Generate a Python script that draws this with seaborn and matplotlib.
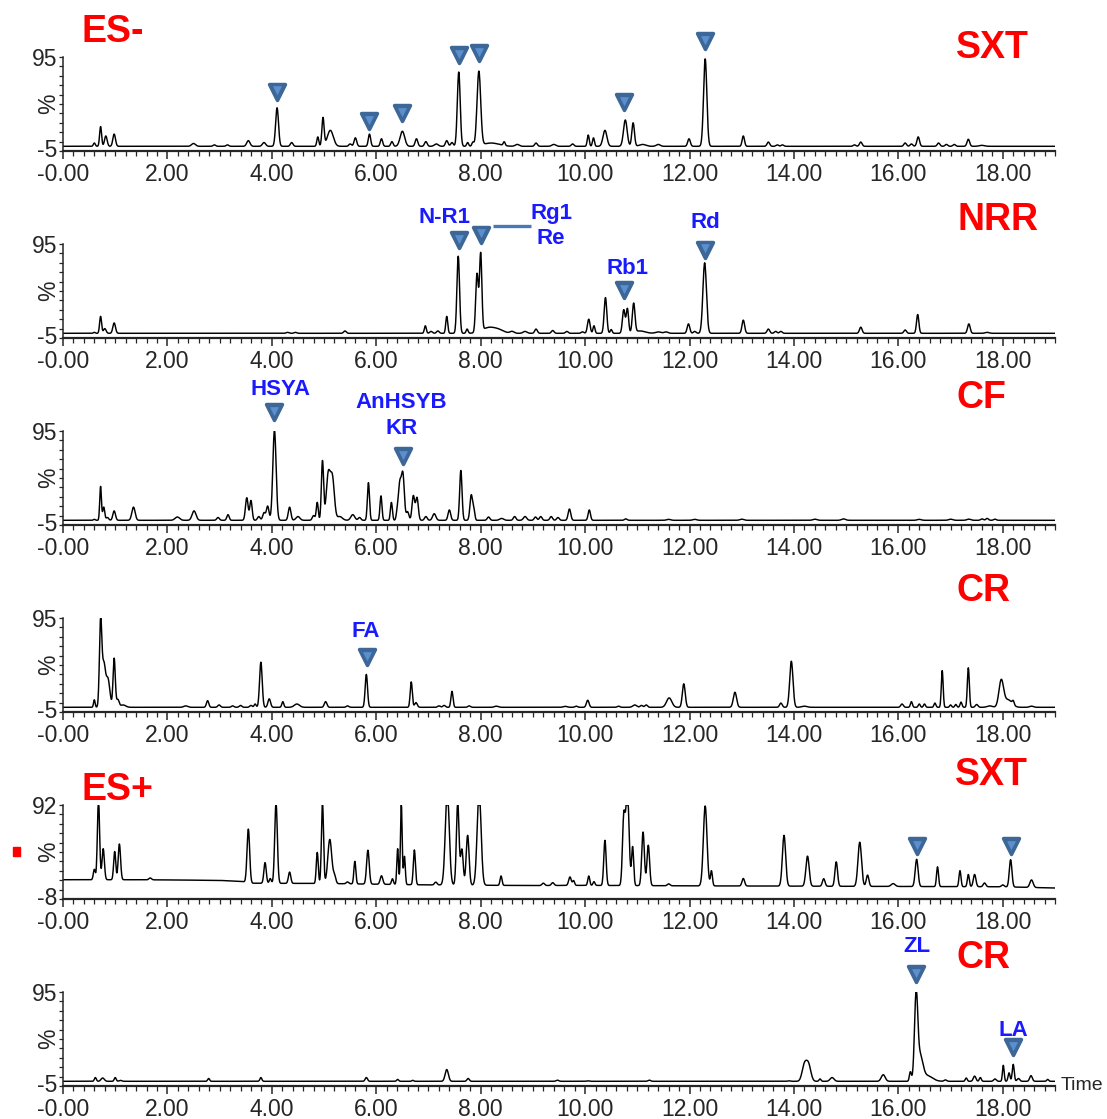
import numpy as np
import pandas as pd
import matplotlib
matplotlib.use("Agg")
import matplotlib.pyplot as plt
import matplotlib.transforms as mtransforms
import seaborn as sns
from matplotlib import font_manager
from matplotlib.patches import Rectangle

# ---------------- data ----------------
# Panel 1 : ES- SXT   (retention time, height %, peak width sigma)
P1_RT = [0.60, 0.72, 0.82, 0.98, 2.50, 2.90, 3.15, 3.55, 3.85, 4.10, 4.38, 4.88, 4.98, 5.12,
         5.50, 5.60, 5.87, 6.10, 6.30, 6.50, 6.77, 6.95, 7.15, 7.35, 7.45, 7.58, 7.75, 7.85,
         7.965, 8.20, 8.45, 8.70, 9.06, 9.40, 9.76, 10.06, 10.16, 10.38, 10.77, 10.92, 11.10,
         11.40, 11.99, 12.30, 13.03, 13.51, 13.68, 13.78, 15.16, 15.28, 16.13, 16.25, 16.38,
         16.77, 16.92, 17.07, 17.34, 17.60]
P1_H = [3.5, 21, 11, 13, 3, 1.5, 1.5, 6, 4, 41, 4, 10, 30, 17,
        2.5, 9, 13, 8, 5, 16, 8, 5, 2.5, 6, 4, 79, 4, 4,
        79, 3.5, 4, 2, 3.5, 2, 2.5, 12, 9, 17, 28, 25, 2,
        2, 8, 93, 11, 4.5, 1.5, 1.5, 1.5, 4.5, 3.5, 2.5, 10,
        3.5, 2, 2, 7.5, 1]
P1_W = [0.015, 0.015, 0.02, 0.02, 0.03, 0.02, 0.02, 0.025, 0.025, 0.022, 0.02, 0.015, 0.017, 0.045,
        0.02, 0.02, 0.018, 0.018, 0.018, 0.035, 0.02, 0.02, 0.03, 0.02, 0.02, 0.022, 0.015, 0.015,
        0.028, 0.12, 0.015, 0.03, 0.02, 0.03, 0.02, 0.015, 0.015, 0.03, 0.028, 0.02, 0.05,
        0.03, 0.02, 0.025, 0.018, 0.02, 0.02, 0.02, 0.02, 0.02, 0.02, 0.02, 0.02,
        0.02, 0.02, 0.02, 0.02, 0.04]

# Panel 2 : NRR
P2_RT = [0.60, 0.72, 0.80, 0.98, 4.30, 4.45, 5.40, 6.94, 7.05, 7.18, 7.35, 7.57, 7.74, 7.93,
         8.00, 8.15, 8.35, 8.60, 8.85, 9.06, 9.38, 9.65, 9.95, 10.07, 10.17, 10.39, 10.50,
         10.74, 10.81, 10.93, 11.05, 11.40, 11.55, 11.98, 12.10, 12.29, 13.03, 13.51, 13.65,
         13.75, 15.28, 16.13, 16.37, 17.35, 17.70]
P2_H = [1, 18, 5, 11, 1, 1, 2.5, 8, 2, 2.5, 18, 82, 4.5, 62,
        82, 6, 3, 2, 2, 4.5, 3, 2, 1.5, 15, 8, 38, 4,
        25, 26, 31, 2.5, 1.5, 1.5, 10, 2, 75, 14, 4.5, 2,
        2, 6.5, 3.5, 20, 10, 1]
P2_W = [0.015, 0.015, 0.02, 0.02, 0.02, 0.02, 0.02, 0.015, 0.02, 0.02, 0.015, 0.02, 0.015, 0.02,
        0.018, 0.1, 0.08, 0.03, 0.03, 0.02, 0.02, 0.02, 0.02, 0.02, 0.015, 0.02, 0.015,
        0.02, 0.018, 0.02, 0.08, 0.04, 0.03, 0.02, 0.02, 0.027, 0.02, 0.02, 0.02,
        0.02, 0.02, 0.02, 0.018, 0.02, 0.03]

# Panel 3 : CF
P3_RT = [0.60, 0.72, 0.78, 0.85, 0.98, 1.35, 2.19, 2.51, 2.97, 3.16, 3.52, 3.60, 3.75, 3.85,
         3.92, 4.05, 4.34, 4.50, 4.80, 4.87, 4.97, 5.08, 5.16, 5.30, 5.55, 5.68, 5.85, 6.09,
         6.29, 6.40, 6.45, 6.51, 6.60, 6.71, 6.78, 6.95, 7.11, 7.40, 7.62, 7.82, 7.87, 8.15,
         8.40, 8.65, 8.85, 9.05, 9.15, 9.35, 9.48, 9.70, 10.08, 10.78, 11.60, 12.10, 13.00,
         14.40, 14.95, 16.40, 17.00, 17.35, 17.60, 17.70, 17.85]
P3_H = [1, 36, 14, 3, 10, 14, 3.5, 10, 3, 6, 24, 21, 4, 8,
        15, 96, 14, 4, 5, 19, 63, 48, 44, 4, 6, 3, 40, 26,
        19, 7, 38, 48, 9, 26, 24, 4, 7, 11, 53, 27, 10, 3.5,
        2, 4, 4, 3.5, 4, 4, 3, 12, 11, 1.5, 1, 1, 1.2,
        1.2, 1.5, 1, 1.2, 1.2, 1.5, 2, 1.2]
P3_W = [0.015, 0.013, 0.015, 0.02, 0.02, 0.025, 0.035, 0.03, 0.02, 0.018, 0.02, 0.018, 0.02, 0.02,
        0.02, 0.025, 0.02, 0.03, 0.02, 0.015, 0.017, 0.03, 0.03, 0.04, 0.03, 0.02, 0.016, 0.015,
        0.015, 0.015, 0.022, 0.022, 0.02, 0.02, 0.02, 0.02, 0.025, 0.02, 0.018, 0.02, 0.015, 0.02,
        0.03, 0.02, 0.025, 0.02, 0.02, 0.02, 0.02, 0.02, 0.018, 0.02, 0.03, 0.03, 0.03,
        0.03, 0.03, 0.03, 0.03, 0.03, 0.02, 0.02, 0.02]

# Panel 4 : CR (ES-)
P4_RT = [0.60, 0.72, 0.78, 0.86, 0.98, 1.05, 1.15, 2.35, 2.77, 2.99, 3.25, 3.40, 3.60, 3.68,
         3.79, 3.95, 4.21, 4.48, 5.03, 5.45, 5.81, 6.67, 6.76, 7.20, 7.30, 7.45, 7.78, 8.30,
         9.62, 9.83, 10.05, 10.64, 10.95, 11.08, 11.17, 11.61, 11.89, 12.87, 13.75, 13.95,
         14.20, 16.07, 16.25, 16.40, 16.50, 16.70, 16.84, 17.00, 17.10, 17.20, 17.34, 17.50,
         17.75, 17.97, 18.10, 18.20, 18.55]
P4_H = [8, 90, 44, 30, 52, 8, 2.5, 1.5, 7, 2.5, 1.5, 2, 2, 3.5,
        48, 9, 6, 3.5, 6, 1.5, 35, 27, 5, 1.5, 2, 17, 1.5, 1.2,
        1, 1.2, 7.5, 1.2, 2.5, 2, 2.5, 10, 25, 16, 4.5, 49,
        1.2, 3.5, 6, 3.5, 3.5, 4.5, 39, 2.5, 3, 5.5, 42, 3,
        1.5, 28, 8, 4, 1.2]
P4_W = [0.012, 0.018, 0.025, 0.03, 0.017, 0.02, 0.04, 0.03, 0.018, 0.02, 0.02, 0.02, 0.02, 0.015,
        0.02, 0.02, 0.015, 0.04, 0.02, 0.02, 0.018, 0.016, 0.02, 0.02, 0.02, 0.016, 0.02, 0.03,
        0.03, 0.02, 0.02, 0.02, 0.03, 0.02, 0.02, 0.04, 0.022, 0.025, 0.02, 0.025,
        0.04, 0.02, 0.015, 0.015, 0.015, 0.015, 0.014, 0.015, 0.015, 0.015, 0.015, 0.02,
        0.04, 0.035, 0.06, 0.015, 0.03]

# Panel 5 : ES+ SXT (drifting baseline)
P5_BASE_T = [0.0, 0.55, 1.2, 2.0, 3.0, 3.45, 3.6, 5.0, 7.0, 9.0, 10.0, 12.0, 15.0, 18.0, 19.0]
P5_BASE_V = [12.5, 12.5, 12.5, 12.3, 11.8, 10.5, 8.8, 8.5, 7.0, 6.3, 6.5, 6.0, 5.5, 5.0, 3.7]
P5_RT = [0.60, 0.68, 0.77, 0.99, 1.08, 1.67, 3.55, 3.87, 3.97, 4.08, 4.34, 4.87, 4.97, 5.11,
         5.20, 5.45, 5.59, 5.84, 6.10, 6.31, 6.41, 6.48, 6.54, 6.73, 7.14, 7.36, 7.56, 7.64,
         7.75, 7.97, 8.39, 9.20, 9.38, 9.71, 9.78, 10.07, 10.17, 10.38, 10.74, 10.81, 10.91,
         11.11, 11.21, 11.60, 12.30, 12.42, 13.03, 13.81, 14.26, 14.57, 14.81, 15.26, 15.41,
         15.90, 16.35, 16.75, 17.18, 17.34, 17.46, 17.65, 18.00, 18.15, 18.55]
P5_H = [11, 85, 33, 30, 38, 2, 57, 22, 5, 86, 12, 33, 86, 47,
        8, 2, 24, 36, 9, 6, 38, 86, 30, 37, 3, 100, 88, 38,
        53, 100, 10, 2.5, 3, 9, 5, 10, 4, 48, 70, 100, 41,
        57, 43, 2, 85, 16, 8, 54, 32, 8, 26, 47, 12,
        3, 29, 21, 17, 13, 13, 4, 2, 29, 8]
P5_W = [0.015, 0.017, 0.018, 0.016, 0.018, 0.02, 0.02, 0.018, 0.015, 0.02, 0.018, 0.015, 0.016, 0.03,
        0.02, 0.02, 0.015, 0.02, 0.02, 0.015, 0.013, 0.013, 0.013, 0.016, 0.02, 0.03, 0.02, 0.02,
        0.022, 0.03, 0.015, 0.02, 0.02, 0.02, 0.015, 0.015, 0.015, 0.018, 0.02, 0.025, 0.016,
        0.02, 0.02, 0.02, 0.028, 0.015, 0.02, 0.025, 0.025, 0.02, 0.02, 0.027, 0.02,
        0.03, 0.022, 0.015, 0.015, 0.015, 0.02, 0.02, 0.02, 0.02, 0.025]

# Panel 6 : CR (ES+)
P6_RT = [0.62, 0.76, 1.00, 1.10, 2.79, 3.79, 5.81, 6.41, 6.70, 7.35, 7.76, 9.47, 10.05, 11.23,
         13.90, 14.20, 14.28, 14.50, 14.73, 15.71, 16.23, 16.34, 16.42, 16.55, 16.90, 17.30,
         17.46, 17.57, 17.85, 18.01, 18.12, 18.20, 18.30, 18.54, 18.86]
P6_H = [4, 3.5, 4, 1, 3, 4, 4, 2, 1, 12.5, 3, 1.2, 0.5, 1.2,
        0.5, 17, 17, 2.5, 4, 7, 10, 90, 25, 6, 1.5, 3.5,
        5.5, 4, 2.5, 17, 9, 18, 3, 6, 2]
P6_W = [0.015, 0.025, 0.015, 0.02, 0.015, 0.015, 0.018, 0.015, 0.015, 0.025, 0.018, 0.02, 0.02, 0.02,
        0.02, 0.035, 0.035, 0.015, 0.03, 0.03, 0.015, 0.025, 0.04, 0.08, 0.02, 0.015,
        0.02, 0.015, 0.02, 0.013, 0.015, 0.015, 0.02, 0.02, 0.015]

# marked compounds (retention time, marker height %)
P1_MARK_RT = [4.10, 5.87, 6.50, 7.58, 7.97, 10.75, 12.30]
P1_MARK_Y = [58, 27, 35, 97, 99, 47, 112]
P2_MARK_RT = [7.58, 8.00, 10.75, 12.30]
P2_MARK_Y = [99, 105, 46, 89]
P3_MARK_RT = [4.05, 6.52]
P3_MARK_Y = [115, 68]
P4_MARK_RT = [5.83]
P4_MARK_Y = [53]
P5_MARK_RT = [16.35, 18.15]
P5_MARK_Y = [48, 48]
P6_MARK_RT = [16.33, 18.20]
P6_MARK_Y = [114, 36]

# compound labels (text, rt, height %)
P2_LABELS = [("N-R1", 7.30, 123), ("Rg1", 9.35, 127), ("Re", 9.35, 101),
             ("Rb1", 10.82, 69), ("Rd", 12.30, 118)]
P2_LINK_X = [8.24, 8.97]
P2_LINK_Y = [114, 114]
P3_LABELS = [("HSYA", 4.16, 139), ("AnHSYB", 6.47, 125.5), ("KR", 6.49, 98)]
P4_LABELS = [("FA", 5.80, 81)]
P6_LABELS = [("ZL", 16.36, 143), ("LA", 18.21, 54)]

YLIMS = [(-5, 95), (-5, 95), (-5, 95), (-5, 95), (-8, 92), (-5, 95)]
XTICKS = [0, 2, 4, 6, 8, 10, 12, 14, 16, 18]
XTICK_LABELS = ["-0.00", "2.00", "4.00", "6.00", "8.00", "10.00", "12.00", "14.00", "16.00", "18.00"]

# red sample / mode titles (text, left px, centre y px)
TITLES = [("ES-", 82, 32), ("SXT", 956, 48), ("NRR", 958, 220), ("CF", 956, 398),
          ("CR", 957, 591), ("ES+", 82, 790), ("SXT", 955, 775), ("CR", 957, 958)]

# ---------------- drawing ----------------
W_PX, H_PX = 1107, 1119
WIDTH_SCALE = 1.25          # peaks are slightly broader than first estimated
sns.set_style("ticks")
available = {f.name for f in font_manager.fontManager.ttflist}
if "Liberation Sans Narrow" in available:
    TICKFONT, TICKSIZE = "Liberation Sans Narrow", 19
else:
    TICKFONT, TICKSIZE = "Liberation Sans", 16.5
plt.rcParams["font.family"] = ["Liberation Sans", "DejaVu Sans"]

fig = plt.figure(figsize=(W_PX / 100, H_PX / 100), dpi=100)
fig.patch.set_facecolor("white")

T = np.linspace(0, 19, 3801)


def build_trace(rts, hs, ws, base):
    y = np.array(base, dtype=float)
    for r, h, w in zip(rts, hs, ws):
        y = y + h * np.exp(-0.5 * ((T - r) / (w * WIDTH_SCALE)) ** 2)
    return y


zeros = np.zeros_like(T)
traces = [
    build_trace(P1_RT, P1_H, P1_W, zeros),
    build_trace(P2_RT, P2_H, P2_W, zeros),
    build_trace(P3_RT, P3_H, P3_W, zeros),
    build_trace(P4_RT, P4_H, P4_W, zeros),
    build_trace(P5_RT, P5_H, P5_W, np.interp(T, P5_BASE_T, P5_BASE_V)),
    build_trace(P6_RT, P6_H, P6_W, zeros),
]
marks = [(P1_MARK_RT, P1_MARK_Y), (P2_MARK_RT, P2_MARK_Y), (P3_MARK_RT, P3_MARK_Y),
         (P4_MARK_RT, P4_MARK_Y), (P5_MARK_RT, P5_MARK_Y), (P6_MARK_RT, P6_MARK_Y)]
labels = [[], P2_LABELS, P3_LABELS, P4_LABELS, [], P6_LABELS]

AX_LEFT, AX_RIGHT = 63, 1055
AX_TOP0, AX_STEP, AX_H = 57, 187, 94
BLUE = "#1a1aff"
MK_OUT, MK_IN = "#3d6797", "#5b8fd0"
lift = mtransforms.ScaledTranslation(0, 3 / 100, fig.dpi_scale_trans)

for i in range(6):
    top = AX_TOP0 + AX_STEP * i
    ax = fig.add_axes([AX_LEFT / W_PX, 1 - (top + AX_H) / H_PX,
                       (AX_RIGHT - AX_LEFT) / W_PX, AX_H / H_PX])
    lo, hi = YLIMS[i]
    y = np.minimum(traces[i], hi)
    df = pd.DataFrame({"time": T, "pct": y})
    sns.lineplot(data=df, x="time", y="pct", ax=ax, color="black", linewidth=1.05,
                 estimator=None, sort=False)
    ax.set_xlim(0, 19)
    ax.set_ylim(lo, hi)
    ax.set_xlabel("")
    ax.set_ylabel("")
    for s in ("top", "right"):
        ax.spines[s].set_visible(False)
    ax.spines["left"].set_linewidth(1.1)
    ax.spines["bottom"].set_linewidth(1.6)
    ax.set_xticks(XTICKS)
    ax.set_xticklabels(XTICK_LABELS, fontfamily=TICKFONT, fontsize=TICKSIZE)
    ax.set_xticks(np.arange(0, 19.01, 0.2), minor=True)
    ax.set_yticks([lo, hi])
    ax.set_yticklabels([str(lo), str(hi)], fontfamily=TICKFONT, fontsize=TICKSIZE)
    ax.set_yticks(np.arange(lo + 10, hi, 10), minor=True)
    ax.tick_params(axis="x", which="major", direction="out", length=5.8, width=1.1, pad=3)
    ax.tick_params(axis="x", which="minor", direction="out", length=3.4, width=0.9)
    ax.tick_params(axis="y", which="both", direction="out", length=3.2, width=0.9, pad=1)
    # lift the lower y label ("-5"/"-8") a few pixels so it clears the x tick labels
    low_lab = ax.get_yticklabels()[0]
    low_lab.set_transform(low_lab.get_transform() + lift)
    ax.text(-0.014, 0.5, "%", rotation=90, ha="center", va="center", transform=ax.transAxes,
            fontfamily=TICKFONT, fontsize=TICKSIZE)
    mrt, my = marks[i]
    ax.scatter(mrt, my, marker="v", s=130, color=MK_OUT, edgecolors=MK_OUT, linewidths=2.6,
               clip_on=False, zorder=5)
    ax.scatter(mrt, [v + 1.5 for v in my], marker="v", s=32, color=MK_IN, edgecolors=MK_IN,
               linewidths=0.5, clip_on=False, zorder=6)
    for txt, lx, ly in labels[i]:
        ax.text(lx, ly, txt, ha="center", va="center", color=BLUE, fontsize=16,
                fontweight="bold", clip_on=False)
    if i == 1:
        ax.plot(P2_LINK_X, P2_LINK_Y, color="#4a7ab5", linewidth=2.4, clip_on=False,
                solid_capstyle="butt")
    if i == 5:
        fig.text(1061 / W_PX, 1 - 1085 / H_PX, "Time", ha="left", va="center",
                 fontfamily=TICKFONT, fontsize=14)

for txt, lx, ly in TITLES:
    fig.text(lx / W_PX, 1 - ly / H_PX, txt, ha="left", va="center", color="#ff0000",
             fontsize=27, fontweight="bold")

fig.patches.append(Rectangle((13 / W_PX, 1 - 856 / H_PX), 7 / W_PX, 9 / H_PX,
                             transform=fig.transFigure, color="#ff0000"))

fig.savefig("out.png", dpi=100, facecolor="white")
